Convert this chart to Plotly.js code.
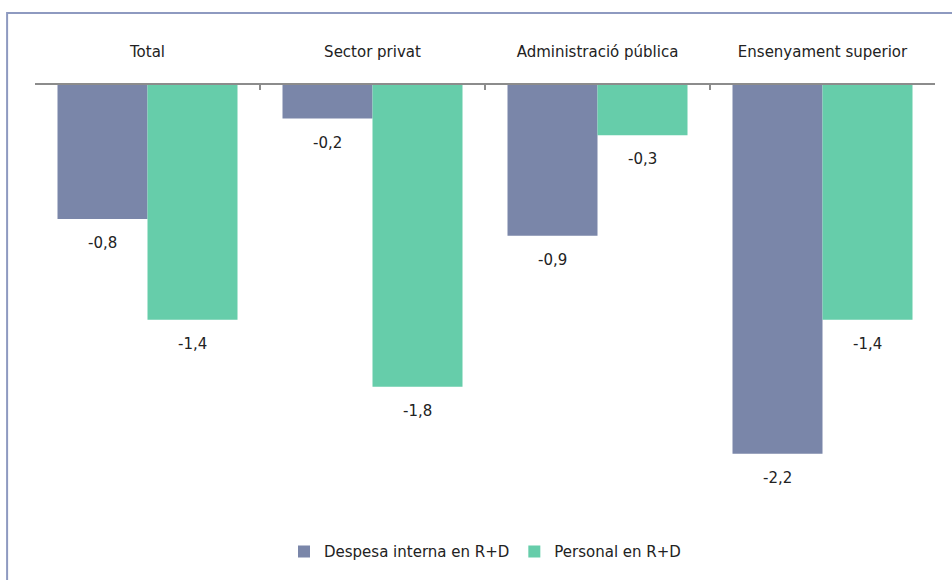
<!DOCTYPE html>
<html><head><meta charset="utf-8">
<script src="https://cdn.plot.ly/plotly-3.0.1.min.js"></script>
<style>html,body{margin:0;padding:0;background:#fff}#chart{width:952px;height:580px}</style>
</head><body><div id="chart"></div>
<script>
const categories = ["Total", "Sector privat", "Administració pública", "Ensenyament superior"];
const seriesNames = ["Despesa interna en R+D", "Personal en R+D"];
const despesa = [-0.8, -0.2, -0.9, -2.2];
const personal = [-1.4, -1.8, -0.3, -1.4];
const colors = ["#7a86a9", "#66cdaa"];

const fontFam = "DejaVu Sans, Arial, sans-serif";
const traces = [despesa, personal].map((vals, i) => ({
  type: "bar", name: seriesNames[i], x: categories, y: vals,
  marker: {color: colors[i], line: {width: 0}}, hoverinfo: "none"
}));

const fmt = v => v.toFixed(1).replace(".", ",");
const annotations = [];
[despesa, personal].forEach((vals, i) => {
  vals.forEach((v, j) => {
    annotations.push({
      x: categories[j], y: v, xref: "x", yref: "y", text: fmt(v),
      showarrow: false, yshift: -24, xshift: (i === 0 ? -45 : 45),
      font: {family: fontFam, size: 15, color: "#222"}
    });
  });
});

const layout = {
  width: 952, height: 580,
  margin: {l: 35, r: 17, t: 85, b: 76},
  paper_bgcolor: "#fff", plot_bgcolor: "#fff",
  barmode: "group", bargap: 0.2, bargroupgap: 0,
  showlegend: true,
  legend: {orientation: "h", x: 0.5, xanchor: "center", y: -0.114, yanchor: "middle",
    font: {family: fontFam, size: 15, color: "#222"}, itemwidth: 30, traceorder: "normal"},
  xaxis: {side: "top", showline: true, linecolor: "#8c8c8c", linewidth: 2,
    ticks: "inside", tickson: "boundaries", ticklen: 5, tickcolor: "#8c8c8c", tickwidth: 1.5,
    ticklabelstandoff: 20,
    tickfont: {family: fontFam, size: 15, color: "#222"}, showgrid: false, zeroline: false,
    fixedrange: true},
  yaxis: {range: [-2.5, 0], visible: false, showgrid: false, zeroline: false},
  annotations: annotations,
  shapes: [{type: "rect", xref: "paper", yref: "paper", x0: -0.031, x1: 1.2, y0: -0.5, y1: 1.172,
    line: {color: "#8e9ac0", width: 2}, fillcolor: "rgba(0,0,0,0)", layer: "above"}]
};
Plotly.newPlot("chart", traces, layout, {displayModeBar: false, staticPlot: true});
</script></body></html>
